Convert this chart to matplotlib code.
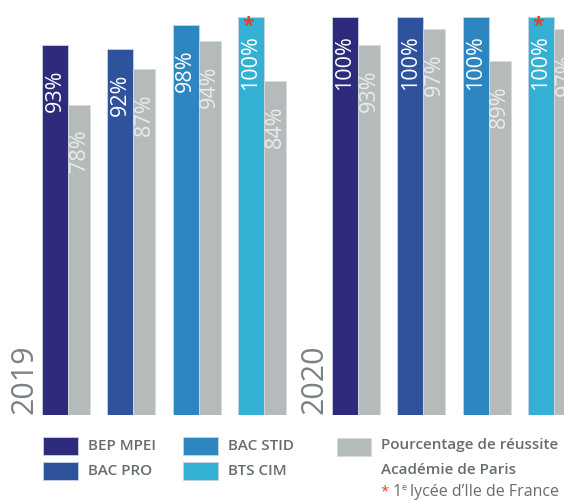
import matplotlib
matplotlib.use("Agg")
import matplotlib.pyplot as plt
from matplotlib.patches import Rectangle

plt.rcParams['font.family'] = ['Open Sans', 'DejaVu Sans']

years = ["2019", "2020"]
diplomas = ["BEP MPEI", "BAC PRO", "BAC STID", "BTS CIM"]
lycee = {"2019": [93, 92, 98, 100], "2020": [100, 100, 100, 100]}
academie = {"2019": [78, 87, 94, 84], "2020": [93, 97, 89, 97]}
first_idf = "BTS CIM"  # marked with a red asterisk

colors = ["#2e2a7c", "#2f529c", "#2e86c1", "#35b0d5"]
grey = "#b5bbba"
text_grey = "#666d71"
red = "#d9452b"

W, H = 564, 501
fig = plt.figure(figsize=(W / 100, H / 100), dpi=100)

# main axes: x in pixels, y in percent; baseline at y=415px, 100% at y=17px
base_px, top_px = 415, 17
ax = fig.add_axes([0, (H - base_px) / H, 1, (base_px - top_px) / H])
ax.set_xlim(0, W)
ax.set_ylim(0, 100)
ax.axis("off")

px_per_pct = (base_px - top_px) / 100
for yi, year in enumerate(years):
    for i, name in enumerate(diplomas):
        left = 42 + 65.3 * i + 290 * yi
        v1 = lycee[year][i]
        v2 = academie[year][i]
        ax.bar(left, v1, width=26, align="edge", color=colors[i],
               edgecolor="#c9d3e0", linewidth=0.6)
        ax.bar(left + 26, v2, width=22, align="edge", color=grey,
               edgecolor="#d6dbdb", linewidth=0.6)
        ax.text(left + 13, v1 - 46 / px_per_pct, f"{v1}%", rotation=90,
                ha="center", va="center", color="white", fontsize=15.5)
        ax.text(left + 26 + 11, v2 - 46 / px_per_pct, f"{v2}%", rotation=90,
                ha="center", va="center", color="#e9ecec", fontsize=15.5)
        if name == first_idf:
            ax.text(left + 10, v1 - 9 / px_per_pct, "*", ha="center",
                    va="center", color=red, fontsize=15, fontweight="bold")
    ax.text(24 + 290 * yi, 0.3, year, rotation=90, ha="center", va="bottom",
            color="#7b8185", fontsize=22)

# legend / footnote overlay in pixel coordinates
lg = fig.add_axes([0, 0, 1, 1])
lg.set_xlim(0, W)
lg.set_ylim(H, 0)
lg.axis("off")

box_pos = [(43, 437), (43, 462), (183, 437), (183, 462)]
for (bx, by), name, c in zip(box_pos, diplomas, colors):
    lg.add_patch(Rectangle((bx, by), 35, 18, facecolor=c,
                           edgecolor="#c9d3e0", linewidth=0.6))
    lg.text(bx + 45, by + 9, name, ha="left", va="center", color=text_grey,
            fontsize=11, fontweight="semibold")

lg.add_patch(Rectangle((337, 438), 34, 18, facecolor=grey,
                       edgecolor="#d6dbdb", linewidth=0.6))
lg.text(381, 445, "Pourcentage de réussite", ha="left", va="center",
        color=text_grey, fontsize=11, fontweight="semibold")
lg.text(381, 470, "Académie de Paris", ha="left", va="center",
        color=text_grey, fontsize=11, fontweight="semibold")
lg.text(380, 492, "*", ha="left", va="center", color=red, fontsize=11)
lg.text(393, 492, "1", ha="left", va="center", color=text_grey, fontsize=11.5)
lg.text(401, 487, "e", ha="left", va="center", color=text_grey, fontsize=6.5)
lg.text(410, 492, "lycée d’Ile de France", ha="left", va="center",
        color=text_grey, fontsize=11.5)

fig.savefig("out.png", dpi=100)
